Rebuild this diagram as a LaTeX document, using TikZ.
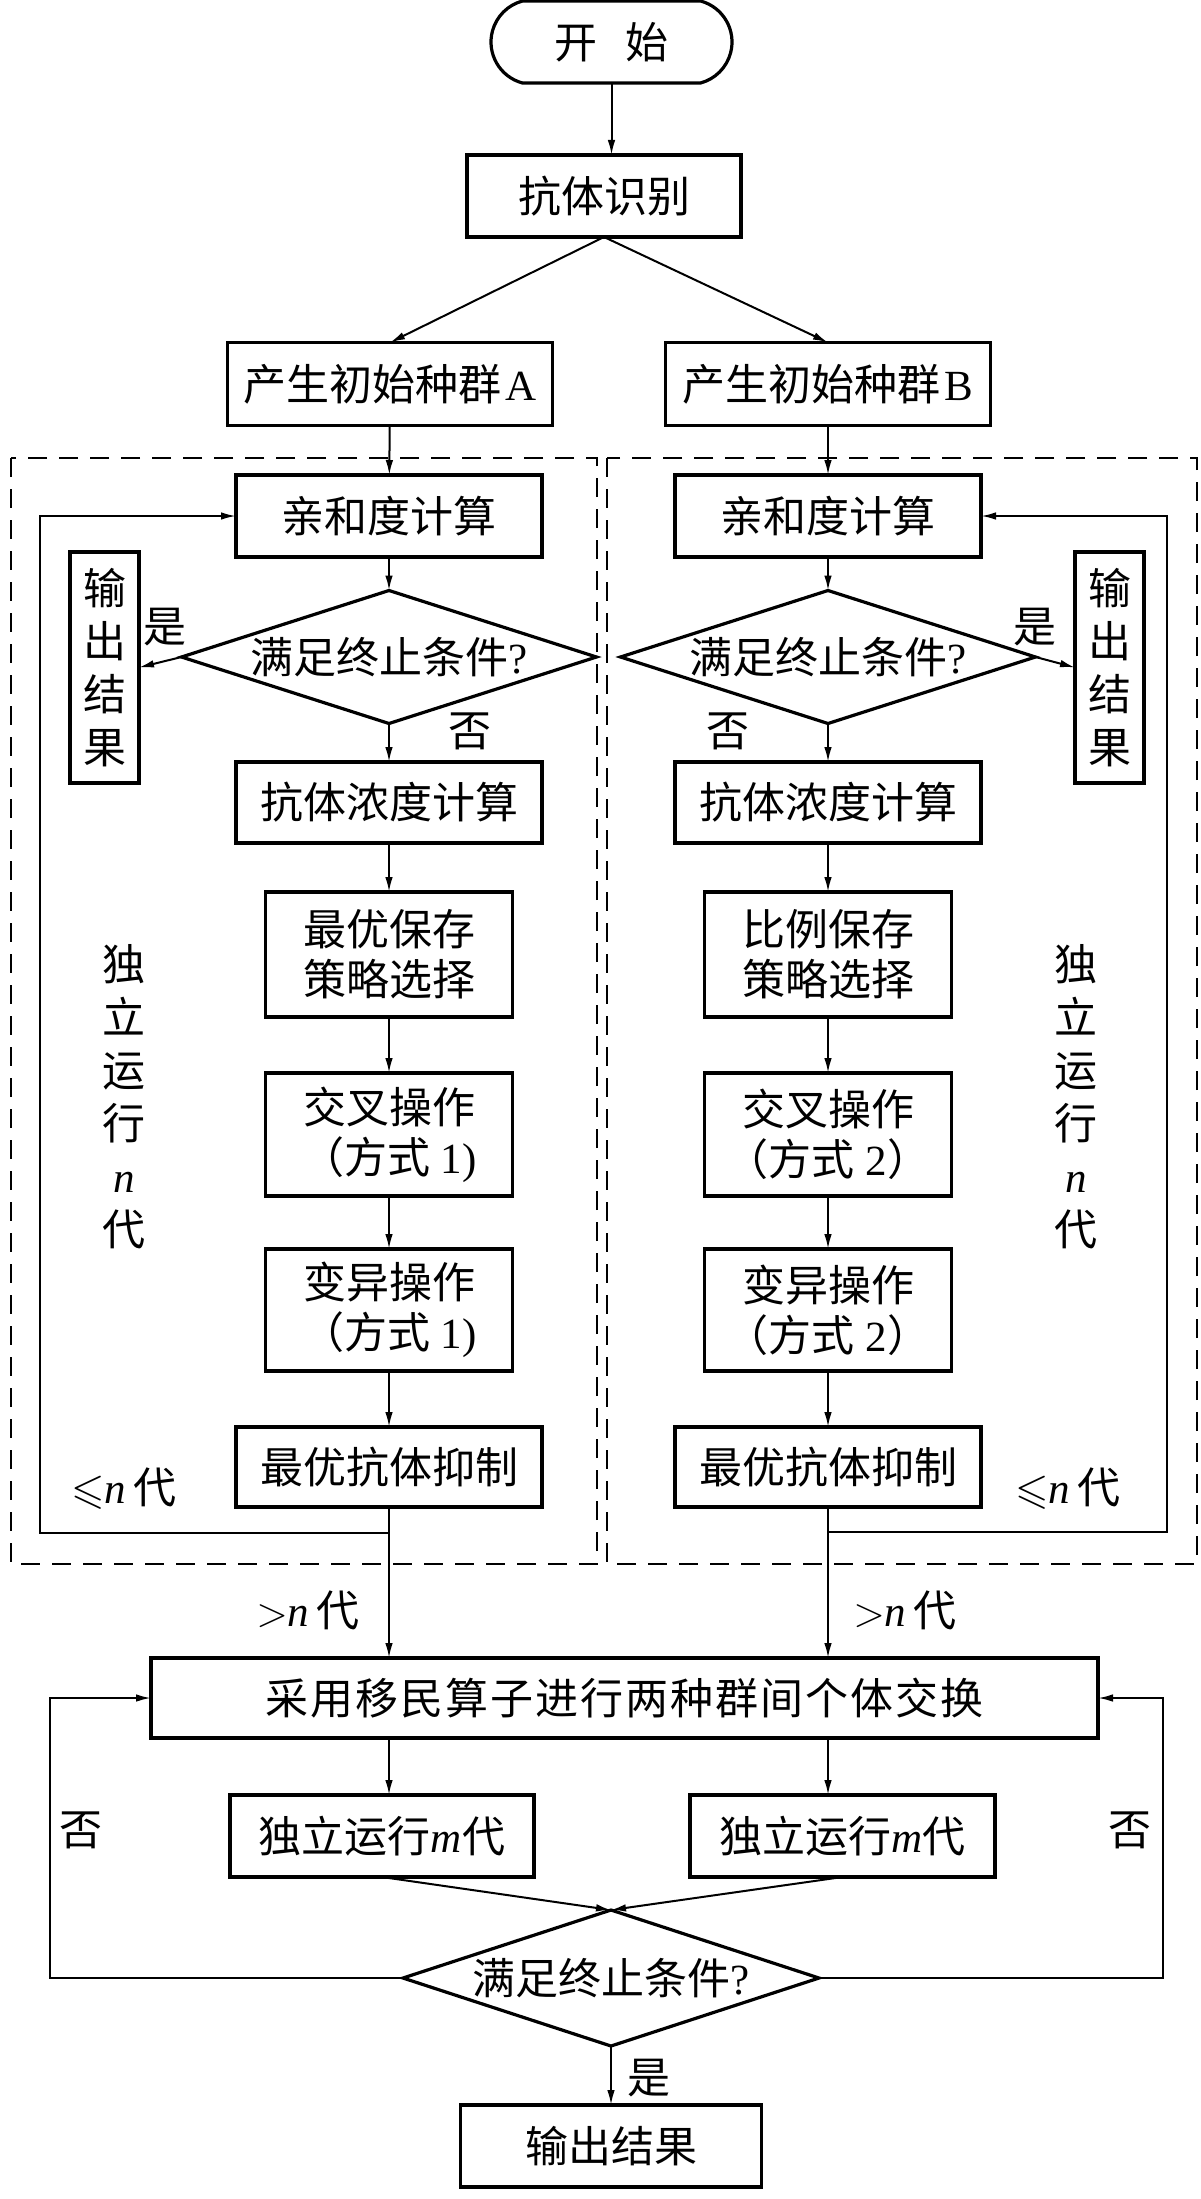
\documentclass[tikz,border=0pt]{standalone}
\usepackage{amssymb}
\usepackage{fontspec}
\setmainfont{Liberation Serif}
\newfontfamily\cjk{Noto Sans CJK SC}
\newfontfamily\lat{Liberation Serif}
\usetikzlibrary{shapes.geometric,shapes.misc,arrows.meta}
\newcommand\Ln[1]{{\lat #1}}
\newcommand\Li[1]{{\lat\itshape #1}}
\newcommand\fsz{\fontsize{21.5pt}{25pt}\selectfont}
\newcommand\lsp{\hspace{1pt}}
\tikzset{
  x=0.5pt, y=-0.5pt,
  base/.style={inner sep=0pt, outer sep=0pt, font=\cjk\fsz, align=center},
  box/.style={base, draw, line width=1.6pt, rectangle},
  dia/.style={base, draw, line width=1.6pt, diamond},
  term/.style={base, draw, line width=1.6pt, rounded rectangle, rounded rectangle arc length=150},
  lbl/.style={base},
  arr/.style={line width=1pt, -{Latex[length=7.5pt,width=3.8pt]}},
  ln/.style={line width=1pt},
  dashbox/.style={line width=1.3pt, dash pattern=on 9.5pt off 6pt},
}
\begin{document}
\begin{tikzpicture}
\useasboundingbox (0,0) rectangle (1200,2199);
% top
\node[term, minimum width=120.5pt, minimum height=41pt] (start) at (611.5,42) {开\hspace{14pt}始};
\node[box, minimum width=137pt, minimum height=41pt] (rec) at (604,196) {抗体识别};
\node[box, minimum width=162.5pt, minimum height=41.5pt] (A) at (390,384) {产生初始种群\hspace{2pt}\Ln{A}};
\node[box, minimum width=162.5pt, minimum height=41.5pt] (B) at (828,384) {产生初始种群\hspace{2pt}\Ln{B}};
% dashed regions
\draw[dashbox] (11,458) rectangle (597,1564);
\draw[dashbox] (607,458) rectangle (1197,1564);
% left column
\node[box, minimum width=153pt, minimum height=41pt] (affL) at (389,516) {亲和度计算};
\node[dia, minimum width=207.5pt, minimum height=66.5pt] (diaL) at (389,657) {\makebox[0pt]{满足终止条件\Ln{?}}};
\node[box, minimum width=34.5pt, minimum height=115.5pt, font=\cjk\fontsize{21.5pt}{26.5pt}\selectfont] (outL) at (104.5,667.5) {输\\出\\结\\果};
\node[box, minimum width=153pt, minimum height=40.5pt] (concL) at (389,802.5) {抗体浓度计算};
\node[box, minimum width=123.5pt, minimum height=62.5pt] (keepL) at (389,954.5) {最优保存\\策略选择};
\node[box, minimum width=123.5pt, minimum height=61.5pt] (crossL) at (389,1134.5) {交叉操作\\（方式\Ln{\ 1)}};
\node[box, minimum width=123.5pt, minimum height=61pt] (mutL) at (389,1310) {变异操作\\（方式\Ln{\ 1)}};
\node[box, minimum width=153pt, minimum height=40pt] (suppL) at (389,1467) {最优抗体抑制};
% right column
\node[box, minimum width=153pt, minimum height=41pt] (affR) at (828,516) {亲和度计算};
\node[dia, minimum width=207.5pt, minimum height=66.5pt] (diaR) at (828,657) {\makebox[0pt]{满足终止条件\Ln{?}}};
\node[box, minimum width=34.5pt, minimum height=115.5pt, font=\cjk\fontsize{21.5pt}{26.5pt}\selectfont] (outR) at (1109.5,667.5) {输\\出\\结\\果};
\node[box, minimum width=153pt, minimum height=40.5pt] (concR) at (828,802.5) {抗体浓度计算};
\node[box, minimum width=123.5pt, minimum height=62.5pt] (keepR) at (828,954.5) {比例保存\\策略选择};
\node[box, minimum width=123.5pt, minimum height=61.5pt] (crossR) at (828,1134.5) {交叉操作\\（方式\Ln{\ 2}）};
\node[box, minimum width=123.5pt, minimum height=61pt] (mutR) at (828,1310) {变异操作\\（方式\Ln{\ 2}）};
\node[box, minimum width=153pt, minimum height=40pt] (suppR) at (828,1467) {最优抗体抑制};
% bottom part
\node[box, minimum width=473.5pt, minimum height=40pt] (exch) at (624.5,1698) {采\lsp 用\lsp 移\lsp 民\lsp 算\lsp 子\lsp 进\lsp 行\lsp 两\lsp 种\lsp 群\lsp 间\lsp 个\lsp 体\lsp 交\lsp 换};
\node[box, minimum width=152pt, minimum height=41pt] (mL) at (382,1836) {独立运行\Li{m}代};
\node[box, minimum width=152.5pt, minimum height=41pt] (mR) at (842.5,1836) {独立运行\Li{m}代};
\node[dia, minimum width=208pt, minimum height=68pt] (fin) at (611,1978) {\makebox[0pt]{满足终止条件\Ln{?}}};
\node[box, minimum width=150.5pt, minimum height=41pt] (outF) at (611,2146) {输出结果};

% labels
\node[lbl] (yesL) at (165,627) {是};
\node[lbl] (noL) at (470,731) {否};
\node[lbl] (yesR) at (1035,627) {是};
\node[lbl] (noR) at (728,731) {否};
\node[lbl, font=\cjk\fontsize{21.5pt}{26.5pt}\selectfont] (indL) at (124,1097) {独\\立\\运\\行\\\Li{n}\\代};
\node[lbl, font=\cjk\fontsize{21.5pt}{26.5pt}\selectfont] (indR) at (1076,1097) {独\\立\\运\\行\\\Li{n}\\代};
\node[lbl] (leL) at (124,1489) {$\leqslant$\Li{n}\,代};
\node[lbl] (leR) at (1068,1489) {$\leqslant$\Li{n}\,代};
\node[lbl] (gtL) at (308,1610) {$>$\Li{n}\,代};
\node[lbl] (gtR) at (905,1610) {$>$\Li{n}\,代};
\node[lbl] (noFL) at (81,1830) {否};
\node[lbl] (noFR) at (1130,1830) {否};
\node[lbl] (yesF) at (649,2078) {是};

% coordinates
\coordinate (jL) at (389,1533);
\coordinate (lpL) at (40,1533);
\coordinate (jR) at (828,1532);
\coordinate (lpR) at (1167,1532);
\coordinate (fL) at (50,1698);
\coordinate (fR) at (1163,1698);

% connectors top
\draw[arr] (start.south) -- (start.south |- rec.north);
\draw[arr] (rec.south) -- (A.north);
\draw[arr] (rec.south) -- (B.north);
\draw[arr] (A) -- (affL);
\draw[arr] (B) -- (affR);
% left column
\draw[arr] (affL) -- (diaL);
\draw[arr] (diaL) -- (concL);
\draw[arr] (diaL.west) -- (outL.east);
\draw[arr] (concL) -- (keepL);
\draw[arr] (keepL) -- (crossL);
\draw[arr] (crossL) -- (mutL);
\draw[arr] (mutL) -- (suppL);
\draw[arr] (suppL.south) -- (suppL.south |- exch.north);
\draw[arr] (jL) -- (lpL) |- (affL.west);
% right column
\draw[arr] (affR) -- (diaR);
\draw[arr] (diaR) -- (concR);
\draw[arr] (diaR.east) -- (outR.west);
\draw[arr] (concR) -- (keepR);
\draw[arr] (keepR) -- (crossR);
\draw[arr] (crossR) -- (mutR);
\draw[arr] (mutR) -- (suppR);
\draw[arr] (suppR.south) -- (suppR.south |- exch.north);
\draw[arr] (jR) -- (lpR) |- (affR.east);
% bottom
\draw[arr] (exch.south -| jL) -- (mL.north -| jL);
\draw[arr] (exch.south -| jR) -- (mR.north -| jR);
\draw[arr] (mL.south) -- (fin.north);
\draw[arr] (mR.south) -- (fin.north);
\draw[arr] (fin.south) -- (outF.north);
\draw[arr] (fin.west) -| (fL) -- (exch.west);
\draw[arr] (fin.east) -| (fR) -- (exch.east);
\end{tikzpicture}
\end{document}
